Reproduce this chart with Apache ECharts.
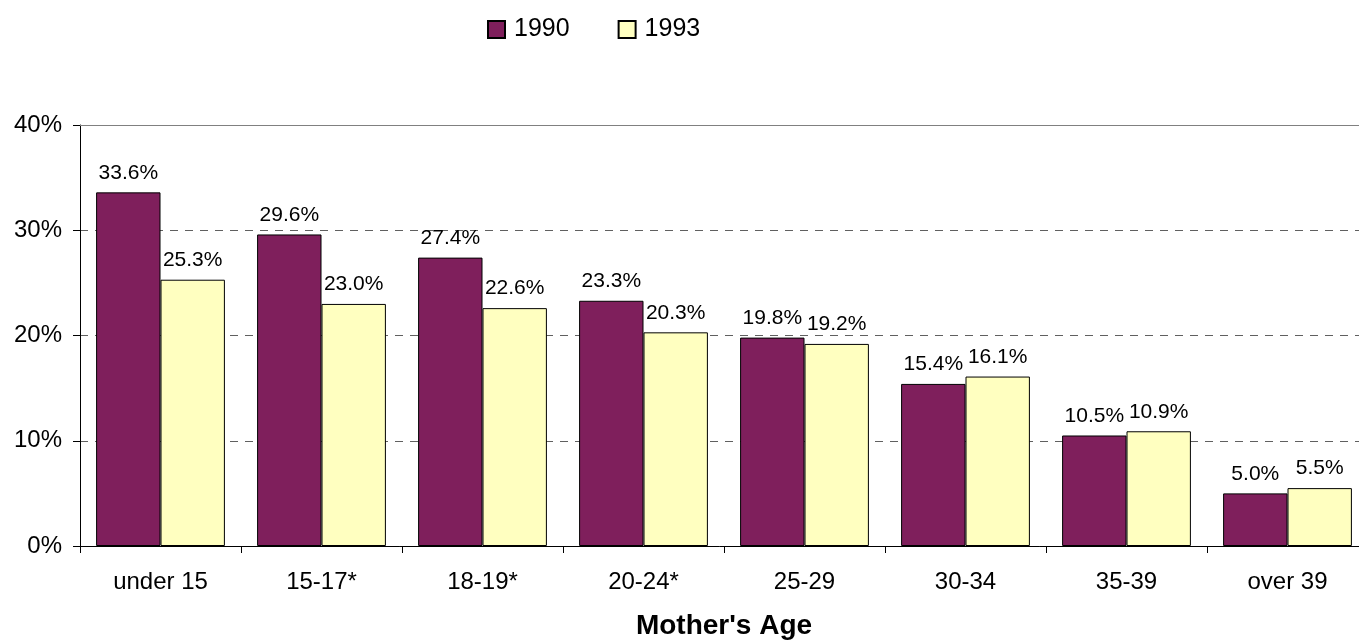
<!DOCTYPE html>
<html>
<head>
<meta charset="utf-8">
<script src="https://cdn.jsdelivr.net/npm/echarts@6/dist/echarts.min.js"></script>
<style>html,body{margin:0;padding:0;background:#fff}#c{width:1359px;height:642px}</style>
</head>
<body>
<div id="c"></div>
<script>
const categories = ['under 15', '15-17*', '18-19*', '20-24*', '25-29', '30-34', '35-39', 'over 39'];
const values1990 = [33.6, 29.6, 27.4, 23.3, 19.8, 15.4, 10.5, 5.0];
const values1993 = [25.3, 23.0, 22.6, 20.3, 19.2, 16.1, 10.9, 5.5];
const seriesNames = ['1990', '1993'];
const yTicks = [0, 10, 20, 30, 40];
const axisTitle = "Mother's Age";

const FONT = '"Liberation Sans", Arial, sans-serif';
const chart = echarts.init(document.getElementById('c'), null, {renderer: 'canvas'});
const labelCfg = {
  show: true, position: 'top', distance: 9, color: '#000',
  fontFamily: FONT, fontSize: 21,
  formatter: p => p.value.toFixed(1) + '%'
};
chart.setOption({
  animation: false,
  backgroundColor: '#fff',
  textStyle: {fontFamily: FONT, color: '#000'},
  legend: {
    left: 482, top: 12, itemWidth: 17, itemHeight: 17, itemGap: 48, icon: 'rect',
    textStyle: {fontSize: 25, color: '#000', fontFamily: FONT, padding: [0, 0, 0, 4]},
    data: seriesNames
  },
  grid: {left: 80, top: 125, height: 421, width: 1288, outerBoundsMode: 'none', containLabel: false},
  xAxis: {
    type: 'category', data: categories,
    axisLine: {lineStyle: {color: '#000', width: 1}},
    axisTick: {show: true, length: 7, lineStyle: {color: '#000'}},
    axisLabel: {color: '#000', fontSize: 24, fontFamily: FONT, margin: 24},
    name: axisTitle, nameLocation: 'middle', nameGap: 66,
    nameTextStyle: {fontSize: 28, fontWeight: 'bold', color: '#000', fontFamily: FONT}
  },
  yAxis: {
    type: 'value', min: yTicks[0], max: yTicks[yTicks.length - 1], interval: 10,
    axisLine: {show: true, lineStyle: {color: '#000', width: 1}},
    axisTick: {show: true, length: 7, lineStyle: {color: '#000'}},
    axisLabel: {color: '#000', fontSize: 24, fontFamily: FONT, margin: 18, formatter: v => v + '%'},
    splitLine: {show: true, lineStyle: {color: '#606060', type: [8, 7], width: 1}}
  },
  series: [
    {
      name: seriesNames[0], type: 'bar', data: values1990,
      barGap: '0%', barCategoryGap: '20%',
      itemStyle: {color: '#7F1F5C', borderColor: '#000', borderWidth: 1},
      label: labelCfg,
      markLine: {
        silent: true, symbol: 'none', label: {show: false},
        lineStyle: {color: '#808080', type: 'solid', width: 1},
        data: [{yAxis: yTicks[yTicks.length - 1]}]
      }
    },
    {
      name: seriesNames[1], type: 'bar', data: values1993,
      barGap: '0%', barCategoryGap: '20%',
      itemStyle: {color: '#FFFFC0', borderColor: '#000', borderWidth: 1},
      label: labelCfg
    }
  ]
});
</script>
</body>
</html>
